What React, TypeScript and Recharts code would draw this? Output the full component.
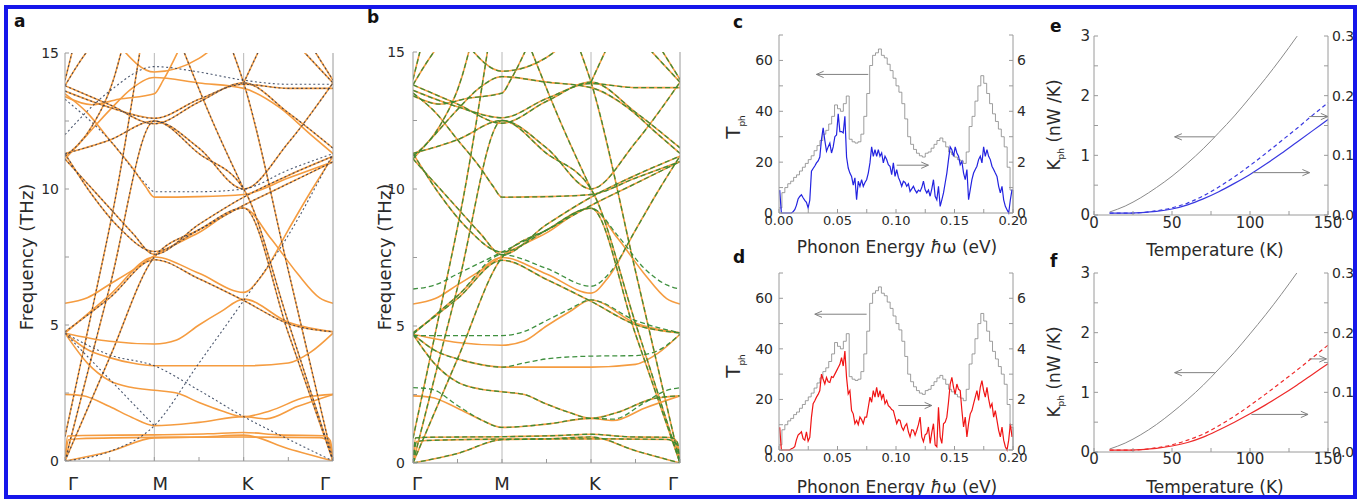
import React from 'react';
import { LineChart, Line, XAxis, YAxis, ReferenceLine } from 'recharts';

type Pt = [number, number];

// ---------- panels a, b : phonon bands ----------
const K_TICKS = [0, 0.5, 1, 1.5, 2, 2.5, 3];
const K_LABELS = ['Γ', '', 'M', '', 'K', '', 'Γ'];
const FREQ_TICKS = [0, 2.5, 5, 7.5, 10, 12.5, 15];

const ORANGE_BANDS: Pt[][] = [
  [[0, 0], [0.5, 0.35], [1, 0.85], [1.5, 0.88], [2, 0.95], [2.5, 0.45], [3, 0]],
  [[0, 0], [0.04, 0.78], [0.15, 0.82], [1, 0.87], [2, 0.88], [2.85, 0.86], [2.96, 0.7], [3, 0]],
  [[0, 0], [0.03, 0.92], [0.2, 0.94], [1, 0.96], [1.6, 1.0], [2, 1.05], [2.4, 0.96], [2.9, 0.93], [2.97, 0.75], [3, 0]],
  [[0, 2.45], [0.2, 2.4], [0.5, 2.0], [0.75, 1.6], [1, 1.3], [1.5, 1.42], [2, 1.63], [2.25, 1.55], [2.6, 2.0], [3, 2.45]],
  [[0, 4.7], [0.25, 3.6], [0.5, 2.95], [0.75, 2.7], [1, 2.6], [1.25, 2.5], [1.5, 2.15], [1.75, 1.85], [2, 1.63], [2.3, 1.85], [2.7, 2.35], [3, 2.45]],
  [[0, 4.7], [0.25, 4.1], [0.5, 3.8], [0.75, 3.6], [1, 3.5], [1.5, 3.5], [2, 3.5], [2.5, 3.6], [2.75, 4.0], [3, 4.7]],
  [[0, 4.7], [0.5, 4.4], [1, 4.3], [1.25, 4.45], [1.5, 5.0], [1.75, 5.5], [2, 5.95], [2.5, 5.1], [3, 4.75]],
  [[0, 4.7], [0.5, 6.1], [1, 7.5], [1.5, 6.9], [2, 6.2], [2.2, 6.8], [2.5, 8.5], [2.75, 9.9], [3, 11.2]],
  [[0, 4.75], [0.5, 6.0], [1, 7.4], [1.5, 6.7], [2, 5.9], [2.5, 5.05], [3, 4.75]],
  [[0, 5.8], [0.25, 6.0], [0.5, 6.5], [0.75, 7.0], [1, 7.55], [1.5, 8.4], [2, 9.3], [2.3, 8.2], [2.6, 6.9], [2.85, 6.0], [3, 5.8]],
  [[0, 11.1], [0.25, 10.2], [0.5, 9.3], [0.75, 8.4], [1, 7.6], [1.5, 8.7], [2, 9.7], [2.5, 10.5], [3, 11.2]],
  [[0, 11.3], [0.3, 9.8], [0.6, 8.6], [1, 7.7], [1.5, 8.5], [2, 9.4], [2.5, 10.2], [3, 11.0]],
  [[0, 13.5], [0.25, 12.8], [0.5, 11.8], [0.75, 10.8], [0.9, 10.1], [1, 9.7], [1.5, 9.72], [2, 9.8], [2.5, 10.4], [3, 11.0]],
  [[0, 11.3], [0.5, 11.8], [1, 12.5], [1.5, 11.5], [2, 10.0], [2.5, 11.7], [3, 13.9]],
  [[0, 13.8], [0.5, 13.1], [1, 12.4], [1.5, 13.2], [2, 13.9], [2.5, 12.8], [3, 11.5]],
  [[0, 13.6], [0.5, 13.0], [1, 12.6], [1.5, 13.3], [2, 13.85], [2.5, 13.7], [3, 13.7]],
  [[0, 13.4], [0.3, 13.1], [0.6, 13.3], [1, 13.5], [1.1, 14.0], [1.3, 15.3]],
  [[0, 11.1], [0.25, 12.0], [0.5, 12.9], [0.75, 13.7], [1, 14.1], [1.5, 13.9], [2, 13.7], [2.4, 13.0], [2.75, 12.0], [3, 11.3]],
  [[0, 0], [0.5, 6.4], [1, 12.5], [1.5, 11.3], [2, 10.0], [2.5, 5.1], [3, 0]],
  [[0, 0], [0.5, 3.8], [1, 7.5], [1.5, 8.5], [2, 9.3], [2.5, 4.7], [3, 0]],
  [[0, 0.9], [0.3, 5.5], [0.6, 10.3], [0.85, 15.3]],
  [[1.85, 15.3], [2, 13.9], [2.5, 7.0], [3, 0]],
  [[1.3, 15.3], [1.65, 12.5], [2, 10.0]],
  [[2, 13.9], [2.2, 15.3]],
  [[0, 13.8], [0.15, 14.6], [0.3, 15.3]],
  [[0, 14.0], [0.1, 15.3]],
  [[2.6, 15.3], [2.8, 14.6], [3, 13.9]],
  [[2.75, 15.3], [3, 14.0]],
  [[0.6, 15.3], [1, 14.3], [1.5, 14.8], [1.7, 15.3]],
  [[0, 11.2], [0.3, 12.3], [0.55, 14.1], [0.65, 15.3]],
];

const DARK_SHARED = [8, 10, 11, 13, 14, 15, 18, 19, 20, 21, 22, 23, 24, 25, 26, 27, 29];
const DARK_EXTRA: Pt[][] = [
  [[0, 0], [0.5, 0.35], [1, 1.3], [1.5, 3.6], [2, 5.9], [2.5, 8.3], [3, 11.3]],
  [[0, 4.7], [0.5, 3.9], [1, 3.5], [1.5, 2.6], [2, 1.63], [2.5, 0.8], [3, 0]],
  [[0, 4.7], [0.5, 3.0], [1, 1.3]],
  [[0, 13.3], [0.5, 11.8], [0.9, 10.2], [1, 9.9], [1.5, 9.9], [2, 10.0], [2.5, 10.7], [3, 11.3]],
  [[0, 12.0], [0.5, 13.6], [1, 14.5], [1.5, 14.3], [2, 14.0], [2.5, 13.85], [3, 13.85]],
];

const GREEN_REPLACED = [3, 5, 6, 7, 9];
const GREEN_EXTRA: Pt[][] = [
  [[0, 2.75], [0.2, 2.7], [0.5, 2.1], [0.75, 1.6], [1, 1.3], [1.5, 1.42], [2, 1.63], [2.25, 1.6], [2.6, 2.2], [2.85, 2.65], [3, 2.75]],
  [[0, 4.7], [0.25, 4.1], [0.5, 3.8], [0.75, 3.6], [1, 3.5], [1.25, 3.65], [1.5, 3.8], [2, 3.9], [2.5, 3.92], [2.75, 4.1], [3, 4.7]],
  [[0, 4.65], [0.5, 4.65], [1, 4.65], [1.25, 4.8], [1.5, 5.2], [1.75, 5.6], [2, 5.95], [2.5, 5.2], [3, 4.75]],
  [[0, 4.7], [0.5, 6.1], [1, 7.6], [1.5, 7.1], [2, 6.45], [2.2, 6.9], [2.5, 8.5], [2.75, 9.9], [3, 11.2]],
  [[0, 6.35], [0.25, 6.5], [0.5, 6.9], [0.75, 7.3], [1, 7.7], [1.5, 8.5], [2, 9.3], [2.3, 8.3], [2.6, 7.1], [2.85, 6.5], [3, 6.35]],
];

// ---------- panels c, d : transmission ----------
const E_TICKS = [0, 0.025, 0.05, 0.075, 0.1, 0.125, 0.15, 0.175, 0.2];
const T_LEFT_TICKS = [0, 10, 20, 30, 40, 50, 60, 70];
const T_RIGHT_TICKS = [0, 1, 2, 3, 4, 5, 6, 7];
const GRAY_STEP = 0.0025;
const GRAY_T = [
  2, 8, 10, 11.5, 12.5, 14, 15, 16.5, 18, 19.5, 21, 22.5, 24.5, 26.5, 28.5, 31, 32.5, 35, 38, 42.5,
  41, 40, 43, 46, 29, 28, 27.5, 28, 31, 38, 47, 58, 62, 63, 64.5, 62, 61, 58.5, 56, 53,
  50, 47.5, 43, 37, 30, 27, 25, 23.5, 22.5, 22, 23.5, 24, 25.5, 27, 28.5, 29.5, 28, 26, 24, 23,
  22, 21, 20.5, 19.5, 24, 34, 38, 44, 50, 54, 51, 47, 43, 39, 36, 33, 30, 26, 18, 9, 0,
];
const FINE_E0 = 0.0006;
const FINE_STEP = 0.2 / 140;
const BLUE_T = [
  0.9, 0, 0, 0, 0, 0, 0, 0, 0.05, 0.13, 0.3, 0.55, 0.65, 0.72, 0.6, 0.5, 0.42, 0.2, 0.5, 1.64,
  1.75, 1.85, 1.97, 2.05, 2.2, 2.9, 3.35, 2.85, 2.43, 2.6, 2.75, 2.36, 2.6, 3.0, 3.07, 3.9, 3.2, 3.2, 3.15, 3.8,
  2.2, 1.77, 1.57, 1.44, 1.1, 1.38, 0.52, 1.25, 1.05, 1.31, 1.05, 1.2, 1.31, 1.57, 1.97, 2.6, 2.23, 2.49, 2.23, 2.49,
  2.23, 2.36, 1.97, 2.23, 2.1, 1.9, 1.84, 1.51, 1.97, 1.44, 1.71, 1.4, 1.25, 1.05, 1.25, 1.2, 1.05, 1.15, 0.85, 0.95,
  1.05, 0.9, 0.79, 0.9, 0.85, 1.0, 1.25, 0.92, 0.79, 0.9, 0.66, 0.95, 1.31, 0.66, 0.52, 1.05, 0.26, 0.52, 0.79, 1.18,
  1.57, 2.1, 2.6, 2.49, 2.23, 2.6, 2.36, 2.23, 1.9, 2.03, 1.57, 1.31, 1.71, 0.52, 0.92, 1.31, 1.57, 1.71, 1.84, 2.1,
  2.23, 1.97, 2.6, 2.23, 2.49, 2.23, 2.1, 1.84, 1.71, 1.57, 1.44, 1.05, 0.79, 1.05, 0.52, 0.26, 0.13, 0, 0.52, 0.92,
];
const RED_T = [
  0.9, 0, 0, 0, 0, 0, 0, 0.05, 0.08, 0.13, 0.4, 0.59, 0.65, 0.72, 0.45, 0.39, 0.72, 0.35, 0.5, 1.3,
  1.83, 1.95, 2.09, 2.2, 2.35, 3.0, 2.8, 2.61, 2.87, 2.7, 2.67, 2.9, 2.87, 3.0, 3.13, 3.26, 3.39, 3.65, 3.32, 3.91,
  2.87, 2.22, 2.35, 1.56, 1.43, 1.04, 1.17, 1.0, 1.3, 1.2, 1.04, 1.3, 1.3, 1.69, 2.09, 1.89, 2.35, 2.09, 2.48, 2.09,
  2.35, 2.02, 2.22, 1.83, 1.96, 1.75, 1.69, 1.6, 1.56, 1.3, 1.04, 1.2, 1.17, 0.91, 0.78, 0.95, 1.04, 0.72, 0.52, 0.8,
  0.78, 0.59, 0.78, 1.0, 1.3, 0.52, 0.33, 0.6, 0.65, 0.91, 0.26, 0.7, 1.04, 0.2, 0.13, 1.69, 0.52, 0.26, 1.04, 1.1,
  1.3, 1.9, 2.61, 2.87, 2.48, 2.22, 2.61, 2.4, 2.35, 1.56, 0.91, 1.3, 0.52, 1.04, 1.43, 1.56, 1.83, 2.09, 2.35, 1.96,
  2.48, 2.74, 2.35, 2.09, 2.48, 2.02, 1.69, 1.83, 1.3, 1.56, 1.17, 0.78, 0.52, 0.91, 0.39, 0.13, 0, 0.39, 1.04, 0.52,
];

// ---------- panels e, f : thermal conductance ----------
const TEMP_TICKS = [0, 25, 50, 75, 100, 125, 150];
const K_LEFT_TICKS = [0, 0.5, 1, 1.5, 2, 2.5, 3];
const K_RIGHT_TICKS = [0, 0.05, 0.1, 0.15, 0.2, 0.25, 0.3];
const TEMPS = [10, 20, 30, 40, 50, 60, 70, 80, 90, 100, 110, 120, 130, 140, 150];
const KGRAY_E = [0.05, 0.15, 0.29, 0.46, 0.65, 0.87, 1.11, 1.38, 1.66, 1.97, 2.29, 2.63, 2.99, 3.36, 3.75];
const KBLUE_SOLID = [0.003, 0.003, 0.004, 0.006, 0.01, 0.017, 0.027, 0.039, 0.053, 0.068, 0.085, 0.103, 0.122, 0.141, 0.16];
const KBLUE_DASH = [0.003, 0.003, 0.004, 0.007, 0.012, 0.02, 0.032, 0.047, 0.064, 0.083, 0.103, 0.124, 0.145, 0.167, 0.188];
const KGRAY_F = [0.05, 0.15, 0.29, 0.46, 0.66, 0.88, 1.12, 1.39, 1.67, 1.98, 2.3, 2.64, 3.0, 3.37, 3.76];
const KRED_SOLID = [0.003, 0.003, 0.004, 0.006, 0.01, 0.016, 0.025, 0.037, 0.05, 0.064, 0.079, 0.095, 0.112, 0.13, 0.148];
const KRED_DASH = [0.003, 0.003, 0.004, 0.007, 0.012, 0.02, 0.03, 0.044, 0.06, 0.078, 0.097, 0.117, 0.137, 0.158, 0.179];

// ---------- styling ----------
const FONT = 'DejaVu Sans, Verdana, sans-serif';
const ORANGE = '#f59c40';
const DARK = '#2c3a55';
const GREEN = '#358a35';
const AXIS = '#9a9a9a';
const TXT = '#2a2a2a';
const ARROW = '#808080';

const toBand = (b: Pt[]) => b.map(([k, f]) => ({ k, f }));
const near = (v: number, m: number) => Math.abs(v / m - Math.round(v / m)) < 1e-6;

const KTick = (props: any) => {
  const { x, y, payload, dxs } = props;
  const idx = K_TICKS.indexOf(payload.value);
  const lab = K_LABELS[idx];
  if (!lab) return <g />;
  return (
    <text x={x + dxs[idx]} y={y} dy="0.71em" textAnchor="middle" fill={TXT} fontSize={18} fontFamily={FONT}>
      {lab}
    </text>
  );
};

const tickStyle = { fill: TXT, fontSize: 14, fontFamily: FONT };

function BandPanel(props: {
  left: number; width: number; margin: any; tickMarginY: number; tickMarginX: number; dxs: number[];
  dashed: Pt[][]; dashColor: string; dashArray: string; dashWidth: number; dashOpacity: number;
}) {
  const { left, width, margin, tickMarginY, tickMarginX, dxs, dashed, dashColor, dashArray, dashWidth, dashOpacity } = props;
  return (
    <div style={{ position: 'absolute', left, top: 0 }}>
      <LineChart width={width} height={499} margin={margin}>
        <XAxis xAxisId="b" type="number" dataKey="k" domain={[0, 3]} ticks={K_TICKS} interval={0}
          tick={<KTick dxs={dxs} />} tickSize={-4} tickMargin={tickMarginX} height={30} stroke={AXIS} allowDataOverflow />
        <XAxis xAxisId="t" orientation="top" type="number" dataKey="k" domain={[0, 3]} ticks={K_TICKS} interval={0}
          tickFormatter={() => ''} tickSize={-4} height={0} stroke={AXIS} />
        <YAxis yAxisId="l" type="number" domain={[0, 15]} ticks={FREQ_TICKS} interval={0} allowDataOverflow
          tickFormatter={(v: number) => (near(v, 5) ? String(v) : '')} width={40} tickSize={-4} tickMargin={tickMarginY}
          stroke={AXIS} tick={tickStyle} />
        <YAxis yAxisId="r" orientation="right" type="number" domain={[0, 15]} ticks={FREQ_TICKS} interval={0}
          tickFormatter={() => ''} width={12} tickSize={-4} stroke={AXIS} />
        <ReferenceLine xAxisId="b" yAxisId="l" x={1} stroke="#b8b8b8" />
        <ReferenceLine xAxisId="b" yAxisId="l" x={2} stroke="#b8b8b8" />
        {ORANGE_BANDS.map((b, i) => (
          <Line key={'o' + i} xAxisId="b" yAxisId="l" data={toBand(b)} dataKey="f" type="monotone"
            stroke={ORANGE} strokeWidth={1.6} dot={false} activeDot={false} isAnimationActive={false} />
        ))}
        {dashed.map((b, i) => (
          <Line key={'d' + i} xAxisId="b" yAxisId="l" data={toBand(b)} dataKey="f" type="monotone"
            stroke={dashColor} strokeWidth={dashWidth} strokeDasharray={dashArray} strokeOpacity={dashOpacity}
            dot={false} activeDot={false} isAnimationActive={false} />
        ))}
      </LineChart>
    </div>
  );
}

const arrowShape = (p: any) => (
  <line x1={p.x1} y1={p.y1} x2={p.x2} y2={p.y2} stroke={ARROW} strokeWidth={1} markerEnd="url(#grayArrowHead)" />
);

function TransPanel(props: { top: number; height: number; margin: any; series: number[]; color: string; arrows: number[][] }) {
  const { top, height, margin, series, color, arrows } = props;
  const gray = GRAY_T.map((t, i) => ({ e: i * GRAY_STEP, v: t }));
  const col = series.map((t, i) => ({ e: FINE_E0 + i * FINE_STEP, v: t }));
  return (
    <div style={{ position: 'absolute', left: 730, top }}>
      <LineChart width={310} height={height} margin={margin}>
        <XAxis xAxisId="b" type="number" dataKey="e" domain={[0, 0.2]} ticks={E_TICKS} interval={0}
          tickFormatter={(v: number) => (near(v, 0.05) ? v.toFixed(2) : '')} tickSize={-4} tickMargin={7}
          height={30} stroke={AXIS} tick={{ ...tickStyle, fontSize: 13 }} />
        <XAxis xAxisId="t" orientation="top" type="number" dataKey="e" domain={[0, 0.2]} ticks={E_TICKS} interval={0}
          tickFormatter={() => ''} tickSize={-4} height={0} stroke={AXIS} />
        <YAxis yAxisId="l" type="number" domain={[0, 70]} ticks={T_LEFT_TICKS} interval={0}
          tickFormatter={(v: number) => (near(v, 20) ? String(v) : '')} width={49} tickSize={-4} tickMargin={10}
          stroke={AXIS} tick={tickStyle} />
        <YAxis yAxisId="r" orientation="right" type="number" domain={[0, 7]} ticks={T_RIGHT_TICKS} interval={0}
          tickFormatter={(v: number) => (near(v, 2) ? String(v) : '')} width={27} tickSize={-4} tickMargin={8}
          stroke={AXIS} tick={tickStyle} />
        <Line xAxisId="b" yAxisId="l" data={gray} dataKey="v" type="stepAfter" stroke="#858585" strokeWidth={0.8}
          dot={false} activeDot={false} isAnimationActive={false} />
        <Line xAxisId="b" yAxisId="r" data={col} dataKey="v" type="linear" stroke={color} strokeWidth={1.2}
          dot={false} activeDot={false} isAnimationActive={false} />
        {arrows.map((a, i) => (
          <ReferenceLine key={i} xAxisId="b" yAxisId="l" segment={[{ x: a[0], y: a[1] }, { x: a[2], y: a[3] }]}
            shape={arrowShape} />
        ))}
      </LineChart>
    </div>
  );
}

function CondPanel(props: {
  top: number; height: number; margin: any; gray: number[]; solid: number[]; dash: number[]; color: string;
  arrows: number[][]; tickMarginX: number;
}) {
  const { top, height, margin, gray, solid, dash, color, arrows, tickMarginX } = props;
  const g = TEMPS.map((t, i) => ({ t, v: gray[i] }));
  const s = TEMPS.map((t, i) => ({ t, v: solid[i] }));
  const d = TEMPS.map((t, i) => ({ t, v: dash[i] }));
  return (
    <div style={{ position: 'absolute', left: 1050, top }}>
      <LineChart width={308} height={height} margin={margin}>
        <XAxis xAxisId="b" type="number" dataKey="t" domain={[0, 150]} ticks={TEMP_TICKS} interval={0}
          tickFormatter={(v: number) => (near(v, 50) ? String(v) : '')} tickSize={-4} tickMargin={tickMarginX}
          height={28} stroke={AXIS} tick={{ ...tickStyle, fontSize: 15 }} />
        <XAxis xAxisId="t" orientation="top" type="number" dataKey="t" domain={[0, 150]} ticks={TEMP_TICKS} interval={0}
          tickFormatter={() => ''} tickSize={-4} height={0} stroke={AXIS} />
        <YAxis yAxisId="l" type="number" domain={[0, 3]} ticks={K_LEFT_TICKS} interval={0} allowDataOverflow
          tickFormatter={(v: number) => (near(v, 1) ? String(v) : '')} width={44} tickSize={-4} tickMargin={8}
          stroke={AXIS} tick={{ ...tickStyle, fontSize: 15 }} />
        <YAxis yAxisId="r" orientation="right" type="number" domain={[0, 0.3]} ticks={K_RIGHT_TICKS} interval={0}
          allowDataOverflow tickFormatter={(v: number) => (near(v, 0.1) ? v.toFixed(1) : '')} width={30} tickSize={-4}
          tickMargin={8} stroke={AXIS} tick={{ ...tickStyle, fontSize: 14 }} />
        <Line xAxisId="b" yAxisId="l" data={g} dataKey="v" type="monotone" stroke="#8a8a8a" strokeWidth={1}
          dot={false} activeDot={false} isAnimationActive={false} />
        <Line xAxisId="b" yAxisId="r" data={d} dataKey="v" type="monotone" stroke={color} strokeWidth={1.2}
          strokeDasharray="4 3" dot={false} activeDot={false} isAnimationActive={false} />
        <Line xAxisId="b" yAxisId="r" data={s} dataKey="v" type="monotone" stroke={color} strokeWidth={1.2}
          dot={false} activeDot={false} isAnimationActive={false} />
        {arrows.map((a, i) => (
          <ReferenceLine key={i} xAxisId="b" yAxisId="l" segment={[{ x: a[0], y: a[1] }, { x: a[2], y: a[3] }]}
            shape={arrowShape} />
        ))}
      </LineChart>
    </div>
  );
}

const abs = (x: number, y: number, extra: any = {}): React.CSSProperties => ({
  position: 'absolute', left: x, top: y, fontFamily: FONT, color: TXT, whiteSpace: 'nowrap', lineHeight: 1, ...extra,
});

const Letter = ({ ch, x, base }: { ch: string; x: number; base: number }) => (
  <div style={abs(x, base - 14.4, { fontSize: 17, fontWeight: 'bold', color: '#111' })}>{ch}</div>
);

const Rot = ({ cx, cy, size, children }: any) => (
  <div style={abs(cx, cy, { fontSize: size, transform: 'translate(-50%, -50%) rotate(-90deg)' })}>{children}</div>
);
const Centered = ({ cx, cy, size, children }: any) => (
  <div style={abs(cx, cy, { fontSize: size, transform: 'translate(-50%, -50%)' })}>{children}</div>
);

export default function App() {
  const darkA = [...DARK_SHARED.map((i) => ORANGE_BANDS[i]), ...DARK_EXTRA];
  const greenB = [...ORANGE_BANDS.filter((_, i) => !GREEN_REPLACED.includes(i)), ...GREEN_EXTRA];
  return (
    <div style={{ position: 'absolute', left: 0, top: 0, width: 1358, height: 499, background: '#fff', overflow: 'hidden' }}>
      <svg width={0} height={0} style={{ position: 'absolute' }}>
        <defs>
          <marker id="grayArrowHead" viewBox="0 0 10 10" refX="9" refY="5" markerWidth="9" markerHeight="9"
            orient="auto" markerUnits="userSpaceOnUse">
            <path d="M1,1.5 L9,5 L1,8.5" fill="none" stroke={ARROW} strokeWidth={1.1} />
          </marker>
        </defs>
      </svg>

      <BandPanel left={0} width={345} margin={{ top: 53, right: 0, bottom: 8, left: 25 }} tickMarginY={10}
        tickMarginX={20} dxs={[8, 0, 6, 0, 4, 0, -8]} dashed={darkA} dashColor={DARK} dashArray="2 2.5"
        dashWidth={1.1} dashOpacity={0.85} />
      <BandPanel left={345} width={347} margin={{ top: 52, right: 0, bottom: 6, left: 28 }} tickMarginY={12}
        tickMarginX={18} dxs={[4, 0, 0, 0, 4, 0, -7]} dashed={greenB} dashColor={GREEN} dashArray="5 3"
        dashWidth={1.3} dashOpacity={0.95} />

      <TransPanel top={0} height={250} margin={{ top: 35, right: 0, bottom: 7, left: 0 }} series={BLUE_T} color="#2323e0"
        arrows={[[0.0763, 54.5, 0.032, 54.5], [0.1006, 18.8, 0.1277, 18.8]]} />
      <TransPanel top={250} height={249} margin={{ top: 23, right: 0, bottom: 19, left: 0 }} series={RED_T} color="#f01414"
        arrows={[[0.0749, 53.7, 0.0306, 53.7], [0.102, 17.6, 0.1306, 17.6]]} />

      <CondPanel top={0} height={250} margin={{ top: 36, right: 0, bottom: 7, left: 0 }} gray={KGRAY_E}
        solid={KBLUE_SOLID} dash={KBLUE_DASH} color="#3838e0" tickMarginX={6}
        arrows={[[77.4, 1.31, 51.7, 1.31], [101.9, 0.71, 138.2, 0.71], [138, 1.65, 150, 1.65]]} />
      <CondPanel top={250} height={249} margin={{ top: 23, right: 0, bottom: 19, left: 0 }} gray={KGRAY_F}
        solid={KRED_SOLID} dash={KRED_DASH} color="#ee2a2a" tickMarginX={5}
        arrows={[[77.4, 1.33, 51.7, 1.33], [100.9, 0.63, 137.2, 0.63], [138, 1.56, 149, 1.56]]} />

      <Letter ch="a" x={14} base={27} />
      <Letter ch="b" x={367} base={23} />
      <Letter ch="c" x={733} base={28} />
      <Letter ch="d" x={733} base={263} />
      <Letter ch="e" x={1050} base={32} />
      <Letter ch="f" x={1050} base={267} />

      <Rot cx={27} cy={257} size={18}>Frequency (THz)</Rot>
      <Rot cx={385} cy={257} size={18}>Frequency (THz)</Rot>
      <Rot cx={735} cy={127} size={20}>T<sub style={{ fontSize: 9 }}>ph</sub></Rot>
      <Rot cx={735} cy={366} size={20}>T<sub style={{ fontSize: 9 }}>ph</sub></Rot>
      <Rot cx={1056} cy={125} size={17}>K<sub style={{ fontSize: 9 }}>ph</sub> (nW /K)</Rot>
      <Rot cx={1056} cy={372} size={17}>K<sub style={{ fontSize: 9 }}>ph</sub> (nW /K)</Rot>
      <Centered cx={897} cy={247} size={17}>Phonon Energy <i>ħ</i>ω (eV)</Centered>
      <Centered cx={897} cy={487} size={17}>Phonon Energy <i>ħ</i>ω (eV)</Centered>
      <Centered cx={1215} cy={250} size={17}>Temperature (K)</Centered>
      <Centered cx={1215} cy={487} size={17}>Temperature (K)</Centered>

      <div style={{ position: 'absolute', left: 4, top: 5, width: 1353, height: 494, boxSizing: 'border-box',
        border: '4px solid #1616ea', pointerEvents: 'none' }} />
    </div>
  );
}
